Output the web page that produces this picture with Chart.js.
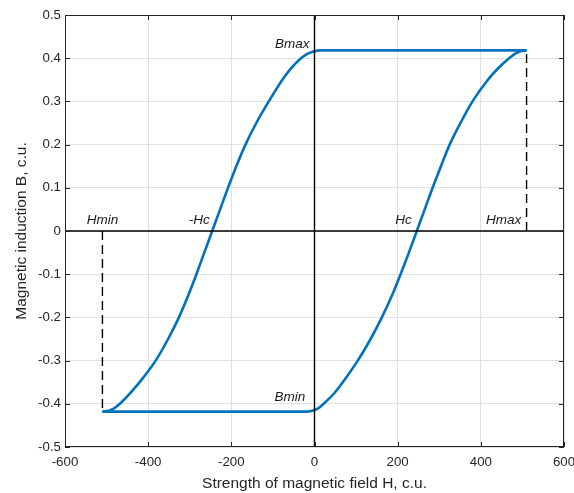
<!DOCTYPE html>
<html>
<head>
<meta charset="utf-8">
<script src="https://cdn.jsdelivr.net/npm/chart.js@4.4.1/dist/chart.umd.min.js"></script>
<style>
  html, body { margin: 0; padding: 0; background: #fff; }
  #wrap { width: 574px; height: 493px; }
</style>
</head>
<body>
<div id="wrap"><canvas id="loop"></canvas></div>
<script>
// hysteresis loop
var upperH = [-510, -496, -484, -468, -440, -418, -382, -352, -326, -304, -284, -265, -246, -227, -208, -188, -166, -140, -110, -76, -56, -31, -15, 0, 14, 510];
var upperB = [-0.418, -0.416, -0.4115, -0.400, -0.372, -0.347, -0.300, -0.250, -0.200, -0.150, -0.100, -0.050, 0, 0.050, 0.100, 0.150, 0.200, 0.250, 0.300, 0.352, 0.377, 0.401, 0.411, 0.4163, 0.418, 0.418];
var lowerH = [-510, -20, -5, 8, 22, 48, 68, 104, 135, 162, 186, 207, 227, 246, 265, 284, 304, 325, 351, 380, 417, 440, 468, 484, 497, 510];
var lowerB = [-0.418, -0.418, -0.416, -0.411, -0.400, -0.375, -0.350, -0.300, -0.250, -0.200, -0.150, -0.100, -0.050, 0, 0.050, 0.100, 0.150, 0.200, 0.250, 0.300, 0.350, 0.375, 0.400, 0.411, 0.4165, 0.418];

var Hmin = -510, Hmax = 510, Bmin = -0.418, Bmax = 0.418;

var xTicks = [-600, -400, -200, 0, 200, 400, 600];
var yTicks = [-0.5, -0.4, -0.3, -0.2, -0.1, 0, 0.1, 0.2, 0.3, 0.4, 0.5];

var notes = [
  { text: 'Bmax', h: -12, b: 0.433, align: 'right' },
  { text: 'Hmin', h: -510, b: 0.024, align: 'center' },
  { text: '-Hc', h: -252, b: 0.024, align: 'right' },
  { text: 'Hc', h: 234, b: 0.024, align: 'right' },
  { text: 'Hmax', h: 497, b: 0.024, align: 'right' },
  { text: 'Bmin', h: -22, b: -0.385, align: 'right' }
];

function pts(hs, bs) {
  var out = [];
  for (var i = 0; i < hs.length; i++) out.push({ x: hs[i], y: bs[i] });
  return out;
}

var FONT = '"Liberation Sans", Arial, Helvetica, sans-serif';
var INK = '#262626';

var framePlugin = {
  id: 'frame',
  afterDatasetsDraw: function(chart) {
    var ctx = chart.ctx, a = chart.chartArea;
    var xs = chart.scales.x, ys = chart.scales.y;
    ctx.save();
    ctx.strokeStyle = INK;
    ctx.lineWidth = 1;
    ctx.strokeRect(a.left + 0.5, a.top + 0.5, a.right - a.left - 1, a.bottom - a.top - 1);
    ctx.beginPath();
    xTicks.forEach(function(v) {
      var px = Math.round(xs.getPixelForValue(v)) + 0.5;
      ctx.moveTo(px, a.bottom); ctx.lineTo(px, a.bottom - 5);
      ctx.moveTo(px, a.top); ctx.lineTo(px, a.top + 5);
    });
    yTicks.forEach(function(v) {
      var py = Math.round(ys.getPixelForValue(v)) + 0.5;
      ctx.moveTo(a.left, py); ctx.lineTo(a.left + 5, py);
      ctx.moveTo(a.right, py); ctx.lineTo(a.right - 5, py);
    });
    ctx.stroke();

    ctx.fillStyle = '#1a1a1a';
    ctx.font = 'italic 13.5px ' + FONT;
    ctx.textBaseline = 'middle';
    notes.forEach(function(n) {
      ctx.textAlign = n.align;
      ctx.fillText(n.text, xs.getPixelForValue(n.h), ys.getPixelForValue(n.b));
    });
    ctx.restore();
  }
};

new Chart(document.getElementById('loop'), {
  type: 'scatter',
  data: {
    datasets: [
      {
        data: pts([-600, 600], [0, 0]),
        showLine: true, borderColor: '#000', borderWidth: 1.4, pointRadius: 0
      },
      {
        data: pts([0, 0], [-0.5, 0.5]),
        showLine: true, borderColor: '#000', borderWidth: 1.4, pointRadius: 0
      },
      {
        data: pts([Hmin, Hmin], [0, Bmin]),
        showLine: true, borderColor: '#000', borderWidth: 1.4, borderDash: [9, 5], pointRadius: 0
      },
      {
        data: pts([Hmax, Hmax], [0, Bmax]),
        showLine: true, borderColor: '#000', borderWidth: 1.4, borderDash: [9, 5], pointRadius: 0
      },
      {
        data: pts(upperH, upperB),
        showLine: true, borderColor: '#0072BD', borderWidth: 2.6, pointRadius: 0,
        cubicInterpolationMode: 'monotone'
      },
      {
        data: pts(lowerH, lowerB),
        showLine: true, borderColor: '#0072BD', borderWidth: 2.6, pointRadius: 0,
        cubicInterpolationMode: 'monotone'
      }
    ]
  },
  options: {
    responsive: true,
    maintainAspectRatio: false,
    animation: false,
    layout: { padding: { top: 15, right: 10, bottom: 0, left: 0 } },
    plugins: { legend: { display: false }, tooltip: { enabled: false } },
    scales: {
      x: {
        min: -600, max: 600,
        afterBuildTicks: function(s) { s.ticks = xTicks.map(function(v) { return { value: v }; }); },
        afterFit: function(s) { s.height = 46; s.paddingLeft = 0; s.paddingRight = 0; },
        grid: { color: '#e0e0e0', drawTicks: false },
        border: { display: false },
        ticks: {
          padding: 7, color: INK, font: { family: FONT, size: 13.3 },
          maxRotation: 0, autoSkip: false,
          callback: function(v) { return String(v); }
        },
        title: {
          display: true, text: 'Strength of magnetic field H, c.u.',
          color: INK, font: { family: FONT, size: 15.5 }, padding: { top: 0, bottom: 0 }
        }
      },
      y: {
        min: -0.5, max: 0.5,
        afterBuildTicks: function(s) { s.ticks = yTicks.map(function(v) { return { value: v }; }); },
        afterFit: function(s) { s.width = 65; s.paddingTop = 0; s.paddingBottom = 0; },
        grid: { color: '#e0e0e0', drawTicks: false },
        border: { display: false },
        ticks: {
          padding: 4, color: INK, font: { family: FONT, size: 13.3 }, autoSkip: false,
          callback: function(v) { return String(Math.round(v * 10) / 10); }
        },
        title: {
          display: true, text: 'Magnetic induction B, c.u.',
          color: INK, font: { family: FONT, size: 15.5 }, padding: { top: 12, bottom: 0 }
        }
      }
    }
  },
  plugins: [framePlugin]
});
</script>
</body>
</html>
